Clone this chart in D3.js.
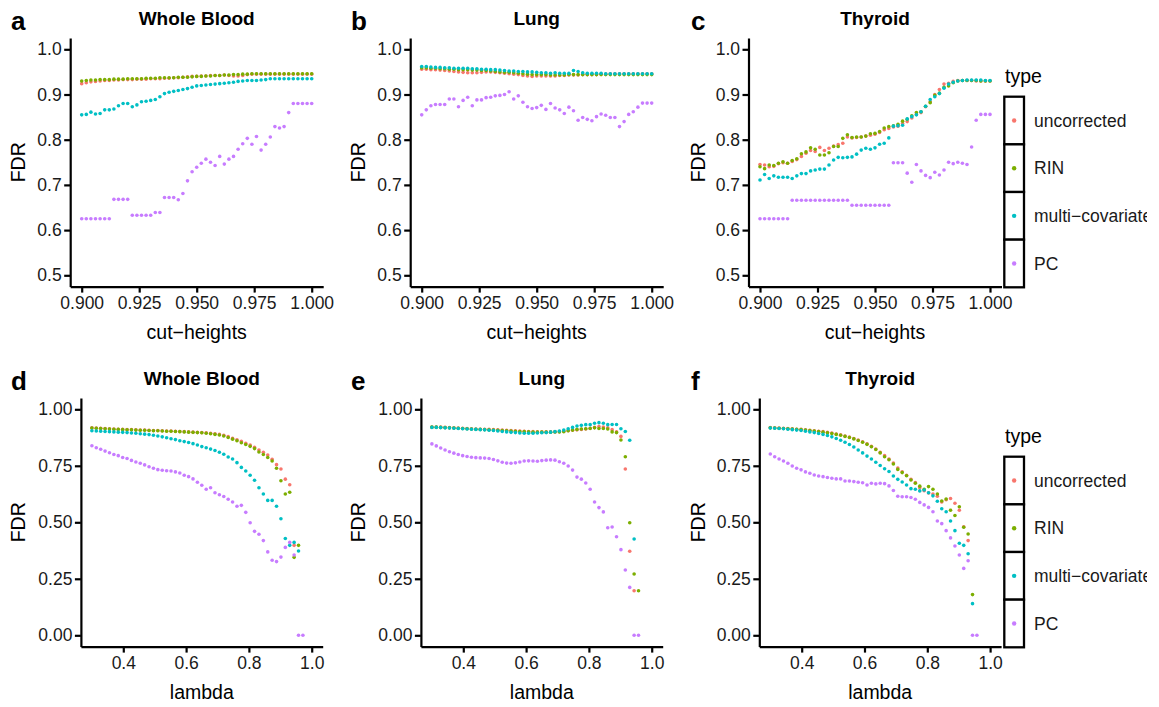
<!DOCTYPE html>
<html>
<head>
<meta charset="utf-8">
<script src="https://cdn.jsdelivr.net/npm/d3@7"></script>
<style>
  body { margin: 0; background: #fff; }
  text { font-family: "Liberation Sans", Arial, sans-serif; }
</style>
</head>
<body>
<div id="chart"></div>
<script>
// ---- data ----
const types = ['uncorrected', 'RIN', 'multi\u2212covariate', 'PC'];
const colors = ['#F8766D', '#7CAE00', '#00BFC4', '#C77CFF'];

const cutHeights = [
  0.900,0.902,0.904,0.906,0.908,0.910,0.912,0.914,0.916,0.918,
  0.920,0.922,0.924,0.926,0.928,0.930,0.932,0.934,0.936,0.938,
  0.940,0.942,0.944,0.946,0.948,0.950,0.952,0.954,0.956,0.958,
  0.960,0.962,0.964,0.966,0.968,0.970,0.972,0.974,0.976,0.978,
  0.980,0.982,0.984,0.986,0.988,0.990,0.992,0.994,0.996,0.998,
  1.000];
const lambdas = [
  0.300,0.314,0.328,0.342,0.356,0.370,0.384,0.398,0.412,0.426,
  0.440,0.454,0.468,0.482,0.496,0.510,0.524,0.538,0.552,0.566,
  0.580,0.594,0.608,0.622,0.636,0.650,0.664,0.678,0.692,0.706,
  0.720,0.734,0.748,0.762,0.776,0.790,0.804,0.818,0.832,0.846,
  0.860,0.874,0.888,0.902,0.916,0.930,0.944,0.958,0.972,0.986,
  1.000];

const cutTicks = [0.900, 0.925, 0.950, 0.975, 1.000];
const cutFdrTicks = [0.5, 0.6, 0.7, 0.8, 0.9, 1.0];
const lambdaTicks = [0.4, 0.6, 0.8, 1.0];
const lambdaFdrTicks = [0, 0.25, 0.5, 0.75, 1.0];

// a: Whole Blood, cut-heights
const wbCutUncorrected = [
  0.924,0.926,0.928,0.929,0.930,0.931,0.931,0.932,0.932,0.933,
  0.933,0.933,0.934,0.934,0.934,0.935,0.935,0.935,0.936,0.936,
  0.937,0.937,0.938,0.939,0.940,0.940,0.941,0.941,0.942,0.942,
  0.942,0.943,0.942,0.941,0.941,0.942,0.944,0.945,0.945,0.945,
  0.945,0.945,0.945,0.945,0.945,0.945,0.945,0.945,0.945,0.945,
  0.945];
const wbCutRIN = [
  0.930,0.931,0.932,0.932,0.933,0.933,0.933,0.934,0.934,0.934,
  0.935,0.935,0.935,0.935,0.936,0.936,0.936,0.937,0.937,0.937,
  0.937,0.938,0.938,0.938,0.939,0.940,0.940,0.941,0.941,0.942,
  0.942,0.943,0.943,0.944,0.944,0.945,0.945,0.946,0.946,0.946,
  0.946,0.946,0.946,0.946,0.946,0.946,0.946,0.946,0.946,0.946,
  0.946];
const wbCutMulti = [
  0.855,0.856,0.861,0.857,0.858,0.866,0.866,0.868,0.875,0.880,
  0.880,0.873,0.877,0.884,0.885,0.887,0.889,0.895,0.902,0.905,
  0.907,0.909,0.911,0.913,0.916,0.919,0.920,0.921,0.922,0.923,
  0.924,0.925,0.926,0.927,0.929,0.930,0.931,0.931,0.931,0.932,
  0.933,0.935,0.935,0.935,0.935,0.935,0.935,0.935,0.935,0.935,
  0.935];
const wbCutPC = [
  0.625,0.625,0.625,0.625,0.625,0.625,0.625,0.668,0.668,0.668,
  0.668,0.633,0.633,0.633,0.633,0.633,0.639,0.639,0.672,0.672,
  0.672,0.667,0.681,0.709,0.729,0.739,0.748,0.757,0.750,0.743,
  0.763,0.746,0.757,0.763,0.779,0.791,0.803,0.790,0.807,0.777,
  0.790,0.806,0.829,0.826,0.829,0.860,0.880,0.880,0.880,0.880,
  0.880];

// b: Lung, cut-heights
const lungCutUncorrected = [
  0.956,0.956,0.955,0.955,0.954,0.953,0.952,0.951,0.950,0.949,
  0.948,0.948,0.948,0.949,0.950,0.950,0.949,0.948,0.947,0.946,
  0.945,0.944,0.942,0.941,0.940,0.941,0.941,0.941,0.941,0.941,
  0.942,0.942,0.943,0.943,0.943,0.944,0.944,0.944,0.944,0.945,
  0.945,0.946,0.946,0.946,0.946,0.946,0.946,0.946,0.946,0.946,
  0.946];
const lungCutRIN = [
  0.959,0.959,0.958,0.958,0.957,0.957,0.956,0.956,0.955,0.955,
  0.955,0.954,0.954,0.953,0.953,0.952,0.951,0.950,0.949,0.949,
  0.948,0.947,0.946,0.945,0.944,0.944,0.944,0.944,0.943,0.943,
  0.943,0.943,0.944,0.944,0.944,0.944,0.944,0.944,0.944,0.944,
  0.944,0.944,0.944,0.944,0.944,0.944,0.944,0.944,0.944,0.944,
  0.944];
const lungCutMulti = [
  0.962,0.962,0.961,0.960,0.960,0.959,0.959,0.958,0.958,0.958,
  0.958,0.957,0.957,0.956,0.956,0.955,0.955,0.954,0.953,0.952,
  0.952,0.951,0.951,0.950,0.950,0.949,0.948,0.948,0.947,0.948,
  0.947,0.947,0.947,0.953,0.951,0.948,0.947,0.947,0.947,0.947,
  0.946,0.946,0.946,0.946,0.946,0.946,0.946,0.946,0.946,0.946,
  0.946];
const lungCutPC = [
  0.855,0.866,0.875,0.878,0.878,0.878,0.890,0.890,0.873,0.887,
  0.894,0.875,0.888,0.888,0.893,0.894,0.897,0.898,0.900,0.906,
  0.890,0.897,0.883,0.873,0.869,0.871,0.876,0.867,0.880,0.870,
  0.866,0.858,0.872,0.864,0.843,0.849,0.845,0.842,0.851,0.857,
  0.854,0.849,0.849,0.829,0.840,0.856,0.862,0.872,0.881,0.881,
  0.881];

// c: Thyroid, cut-heights
const thyCutUncorrected = [
  0.745,0.744,0.740,0.741,0.747,0.749,0.748,0.752,0.756,0.763,
  0.770,0.776,0.774,0.783,0.776,0.781,0.786,0.789,0.792,0.806,
  0.804,0.805,0.806,0.808,0.810,0.812,0.816,0.822,0.825,0.828,
  0.830,0.836,0.840,0.848,0.856,0.860,0.873,0.884,0.900,0.911,
  0.923,0.925,0.929,0.931,0.931,0.931,0.931,0.930,0.930,0.930,
  0.930];
const thyCutRIN = [
  0.740,0.736,0.744,0.743,0.748,0.751,0.748,0.754,0.758,0.769,
  0.773,0.782,0.779,0.766,0.766,0.771,0.785,0.785,0.803,0.811,
  0.805,0.806,0.806,0.808,0.813,0.814,0.818,0.826,0.829,0.831,
  0.834,0.841,0.845,0.853,0.860,0.862,0.874,0.882,0.898,0.903,
  0.916,0.919,0.926,0.930,0.931,0.931,0.931,0.931,0.930,0.930,
  0.930];
const thyCutMulti = [
  0.711,0.723,0.714,0.720,0.717,0.717,0.717,0.714,0.720,0.725,
  0.725,0.731,0.733,0.735,0.735,0.744,0.755,0.761,0.760,0.761,
  0.762,0.768,0.777,0.781,0.779,0.782,0.790,0.792,0.804,0.830,
  0.831,0.832,0.846,0.851,0.855,0.862,0.874,0.889,0.895,0.902,
  0.914,0.923,0.927,0.930,0.931,0.932,0.932,0.932,0.932,0.931,
  0.931];
const thyCutPC = [
  0.625,0.625,0.625,0.625,0.625,0.625,0.625,0.666,0.666,0.666,
  0.666,0.666,0.666,0.666,0.666,0.666,0.666,0.666,0.666,0.666,
  0.655,0.655,0.655,0.655,0.655,0.655,0.655,0.655,0.655,0.749,
  0.749,0.749,0.726,0.706,0.745,0.731,0.721,0.716,0.728,0.722,
  0.733,0.750,0.747,0.750,0.748,0.745,0.784,0.843,0.856,0.856,
  0.856];

// d: Whole Blood, lambda
const wbLamUncorrected = [
  0.918,0.917,0.916,0.915,0.914,0.913,0.912,0.911,0.910,0.910,
  0.909,0.908,0.908,0.907,0.906,0.906,0.905,0.904,0.904,0.903,
  0.902,0.901,0.900,0.899,0.898,0.897,0.896,0.894,0.892,0.889,
  0.885,0.879,0.872,0.865,0.858,0.850,0.842,0.832,0.820,0.810,
  0.798,0.779,0.755,0.736,0.691,0.666,0.398,null,null,null,
  null];
const wbLamRIN = [
  0.917,0.916,0.915,0.914,0.913,0.912,0.911,0.910,0.909,0.909,
  0.908,0.907,0.907,0.906,0.905,0.905,0.904,0.903,0.903,0.902,
  0.901,0.900,0.899,0.898,0.897,0.896,0.894,0.892,0.889,0.886,
  0.882,0.875,0.868,0.861,0.852,0.844,0.836,0.826,0.811,0.800,
  0.787,0.771,0.739,0.684,0.625,0.633,0.345,0.398,null,null,
  null];
const wbLamMulti = [
  0.905,0.904,0.903,0.902,0.901,0.900,0.899,0.898,0.897,0.895,
  0.894,0.892,0.890,0.888,0.885,0.882,0.878,0.874,0.870,0.866,
  0.861,0.857,0.853,0.848,0.842,0.835,0.830,0.824,0.818,0.810,
  0.801,0.789,0.780,0.764,0.743,0.727,0.708,0.686,0.653,0.625,
  0.597,0.597,0.571,0.516,0.428,0.398,0.411,0.373,null,null,
  null];
const wbLamPC = [
  0.839,0.830,0.823,0.815,0.808,0.800,0.795,0.787,0.782,0.774,
  0.767,0.761,0.754,0.746,0.739,0.733,0.730,0.728,0.727,0.723,
  0.718,0.708,0.702,0.692,0.677,0.664,0.646,0.653,0.631,0.622,
  0.614,0.602,0.590,0.571,0.575,0.544,0.498,0.460,0.447,0.419,
  0.369,0.332,0.326,0.346,0.389,0.411,0.355,0,0,null,
  null];

// e: Lung, lambda
const lungLamUncorrected = [
  0.922,0.922,0.921,0.920,0.919,0.918,0.917,0.916,0.915,0.914,
  0.913,0.912,0.912,0.911,0.910,0.909,0.908,0.907,0.906,0.905,
  0.904,0.903,0.902,0.901,0.900,0.900,0.900,0.900,0.900,0.901,
  0.903,0.905,0.907,0.909,0.911,0.913,0.916,0.920,0.924,0.922,
  0.918,0.910,0.900,0.880,0.736,0.372,0.197,null,null,null,
  null];
const lungLamRIN = [
  0.921,0.921,0.920,0.919,0.918,0.917,0.916,0.915,0.914,0.913,
  0.912,0.911,0.910,0.909,0.908,0.907,0.906,0.905,0.904,0.903,
  0.902,0.901,0.900,0.899,0.899,0.899,0.899,0.899,0.900,0.900,
  0.901,0.905,0.908,0.911,0.913,0.914,0.915,0.918,0.915,0.915,
  0.913,0.900,0.897,0.864,0.790,0.498,0.271,0.197,null,null,
  null];
const lungLamMulti = [
  0.920,0.920,0.919,0.918,0.917,0.916,0.915,0.914,0.913,0.912,
  0.911,0.910,0.909,0.907,0.906,0.904,0.902,0.900,0.898,0.897,
  0.895,0.894,0.894,0.894,0.895,0.896,0.897,0.899,0.901,0.904,
  0.908,0.914,0.920,0.926,0.929,0.932,0.932,0.938,0.941,0.938,
  0.932,0.933,0.933,0.914,0.902,0.863,0.426,null,null,null,
  null];
const lungLamPC = [
  0.847,0.838,0.829,0.820,0.812,0.806,0.800,0.795,0.791,0.788,
  0.786,0.785,0.784,0.782,0.778,0.772,0.766,0.762,0.761,0.763,
  0.767,0.771,0.772,0.771,0.770,0.773,0.775,0.776,0.775,0.768,
  0.761,0.749,0.731,0.700,0.691,0.674,0.646,0.590,0.565,0.546,
  0.476,0.479,0.436,0.379,0.289,0.212,0,0,null,null,
  null];

// f: Thyroid, lambda
const thyLamUncorrected = [
  0.919,0.918,0.917,0.916,0.915,0.914,0.912,0.911,0.909,0.907,
  0.905,0.903,0.901,0.898,0.895,0.891,0.887,0.882,0.877,0.871,
  0.864,0.856,0.847,0.836,0.824,0.810,0.795,0.780,0.762,0.740,
  0.724,0.708,0.690,0.676,0.653,0.640,0.630,0.625,0.615,0.590,
  0.600,0.605,0.584,0.553,0.480,0.419,null,null,null,null,
  null];
const thyLamRIN = [
  0.918,0.917,0.916,0.915,0.914,0.913,0.911,0.910,0.908,0.906,
  0.904,0.902,0.899,0.896,0.893,0.889,0.885,0.880,0.875,0.869,
  0.862,0.854,0.845,0.834,0.822,0.807,0.790,0.777,0.758,0.734,
  0.720,0.706,0.687,0.673,0.660,0.646,0.658,0.646,0.625,0.594,
  0.603,0.553,0.530,0.569,0.478,0.448,0.180,null,null,null,
  null];
const thyLamMulti = [
  0.917,0.916,0.915,0.914,0.912,0.910,0.908,0.906,0.903,0.900,
  0.897,0.893,0.889,0.884,0.878,0.871,0.863,0.854,0.844,0.833,
  0.820,0.807,0.793,0.780,0.766,0.751,0.737,0.725,0.705,0.690,
  0.678,0.665,0.649,0.646,0.639,0.643,0.631,0.617,0.593,0.560,
  0.547,0.506,0.463,0.407,0.398,0.361,0.140,null,null,null,
  null];
const thyLamPC = [
  0.802,0.790,0.780,0.771,0.761,0.749,0.739,0.732,0.723,0.717,
  0.709,0.705,0.702,0.698,0.695,0.692,0.692,0.683,0.683,0.680,
  0.677,0.675,0.665,0.673,0.670,0.673,0.671,0.661,0.641,0.615,
  0.613,0.613,0.610,0.602,0.588,0.577,0.566,0.547,0.506,0.494,
  0.463,0.431,0.395,0.355,0.296,0.330,0,0,null,null,
  null];

// ---- layout ----
const width = 1159, height = 707;
const svg = d3.select('#chart').append('svg')
  .attr('width', width)
  .attr('height', height)
  .style('display', 'block')
  .style('background', '#fff');

// the original figure is cut just short of the window's right edge
svg.append('defs').append('clipPath')
  .attr('id', 'figClip')
  .append('rect')
  .attr('x', 0).attr('y', 0)
  .attr('width', 1147).attr('height', height);

const topRow = {
  top: 38, h: 248.6, xs: cutHeights, xDomain: [0.895, 1.005], yDomain: [0.475, 1.025],
  xTicks: cutTicks, xFmt: d3.format('.3f'), yTicks: cutFdrTicks, yFmt: d3.format('.1f'),
  xLabel: 'cut\u2212heights', titleY: 25, letterY: 30, xLabelY: 339, width: 253
};
const bottomRow = {
  top: 398, h: 248.6, xs: lambdas, xDomain: [0.265, 1.035], yDomain: [-0.05, 1.05],
  xTicks: lambdaTicks, xFmt: d3.format('.1f'), yTicks: lambdaFdrTicks, yFmt: d3.format('.2f'),
  xLabel: 'lambda', titleY: 385, letterY: 390, xLabelY: 699, width: 241.8
};

const panels = [
  { row: topRow, letter: 'a', title: 'Whole Blood', left: 70.2, col: 0,
    series: [wbCutUncorrected, wbCutRIN, wbCutMulti, wbCutPC] },
  { row: topRow, letter: 'b', title: 'Lung', left: 410.2, col: 340,
    series: [lungCutUncorrected, lungCutRIN, lungCutMulti, lungCutPC] },
  { row: topRow, letter: 'c', title: 'Thyroid', left: 748.5, col: 680, legend: true,
    series: [thyCutUncorrected, thyCutRIN, thyCutMulti, thyCutPC] },
  { row: bottomRow, letter: 'd', title: 'Whole Blood', left: 80.9, col: 0,
    series: [wbLamUncorrected, wbLamRIN, wbLamMulti, wbLamPC] },
  { row: bottomRow, letter: 'e', title: 'Lung', left: 420.9, col: 340,
    series: [lungLamUncorrected, lungLamRIN, lungLamMulti, lungLamPC] },
  { row: bottomRow, letter: 'f', title: 'Thyroid', left: 759.3, col: 680, legend: true,
    series: [thyLamUncorrected, thyLamRIN, thyLamMulti, thyLamPC] }
];

const styleAxis = (sel) => {
  sel.selectAll('path, line').attr('stroke', '#000').attr('stroke-width', 2.2);
  sel.selectAll('text')
    .attr('fill', '#1a1a1a')
    .style('font-size', '17.5px')
    .style('font-family', '"Liberation Sans", Arial, sans-serif');
};

const drawPanel = (p) => {
  const r = p.row;
  const x = d3.scaleLinear().domain(r.xDomain).range([p.left, p.left + r.width]);
  const y = d3.scaleLinear().domain(r.yDomain).range([r.top + r.h, r.top]);
  const g = svg.append('g');

  // points, one layer per type
  p.series.forEach((vals, k) => {
    g.append('g')
      .selectAll('circle')
      .data(r.xs.map((xv, i) => ({ x: xv, v: vals[i] })).filter(d => d.v !== null))
      .join('circle')
      .attr('cx', d => x(d.x))
      .attr('cy', d => y(d.v))
      .attr('r', 1.8)
      .attr('fill', colors[k]);
  });

  // axes
  g.append('g')
    .attr('transform', `translate(0,${r.top + r.h})`)
    .call(d3.axisBottom(x).tickValues(r.xTicks).tickFormat(r.xFmt)
      .tickSize(6).tickSizeOuter(0).tickPadding(3.5))
    .call(styleAxis);

  g.append('g')
    .attr('transform', `translate(${p.left},0)`)
    .call(d3.axisLeft(y).tickValues(r.yTicks).tickFormat(r.yFmt)
      .tickSize(6).tickSizeOuter(0).tickPadding(2.5))
    .call(styleAxis);

  // titles
  g.append('text')
    .attr('x', p.left + r.width / 2)
    .attr('y', r.titleY)
    .attr('text-anchor', 'middle')
    .style('font-size', '19px')
    .style('font-weight', 'bold')
    .text(p.title);

  g.append('text')
    .attr('x', p.col + 11)
    .attr('y', r.letterY)
    .style('font-size', '26px')
    .style('font-weight', 'bold')
    .text(p.letter);

  g.append('text')
    .attr('x', p.left + r.width / 2)
    .attr('y', r.xLabelY)
    .attr('text-anchor', 'middle')
    .style('font-size', '19.5px')
    .text(r.xLabel);

  g.append('text')
    .attr('transform', `translate(${p.col + 25},${r.top + r.h / 2}) rotate(-90)`)
    .attr('text-anchor', 'middle')
    .style('font-size', '19.5px')
    .text('FDR');

  if (p.legend) drawLegend(r.top + 45.3);
};

const drawLegend = (titleBase) => {
  const lg = svg.append('g').attr('clip-path', 'url(#figClip)');
  const keyTop = titleBase + 13.4, keyH = 47.65, keyX = 1004.3, keyW = 19.7;

  lg.append('text')
    .attr('x', 1005)
    .attr('y', titleBase)
    .style('font-size', '19.5px')
    .text('type');

  types.forEach((t, k) => {
    const cy = keyTop + keyH * k + keyH / 2;
    lg.append('rect')
      .attr('x', keyX).attr('y', keyTop + keyH * k)
      .attr('width', keyW).attr('height', keyH)
      .attr('fill', '#fff')
      .attr('stroke', '#000')
      .attr('stroke-width', 2.3);
    lg.append('circle')
      .attr('cx', keyX + keyW / 2).attr('cy', cy)
      .attr('r', 2.2)
      .attr('fill', colors[k]);
    lg.append('text')
      .attr('x', 1034)
      .attr('y', cy)
      .attr('dy', '0.36em')
      .style('font-size', '17.5px')
      .attr('fill', '#1a1a1a')
      .text(t);
  });
};

panels.forEach(drawPanel);
</script>
</body>
</html>
